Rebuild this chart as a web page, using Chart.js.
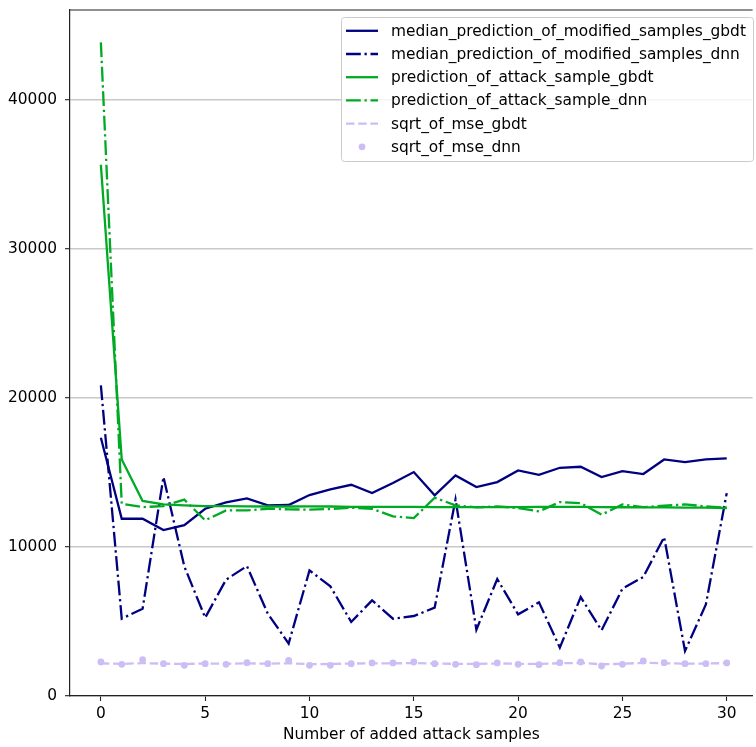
<!DOCTYPE html>
<html>
<head>
<meta charset="utf-8">
<script src="https://cdn.jsdelivr.net/npm/chart.js@4.4.1/dist/chart.umd.min.js"></script>
<style>
  html, body { margin: 0; padding: 0; background: #fff; overflow: hidden; }
  #wrap { width: 756px; height: 747px; position: relative; }
</style>
</head>
<body>
<div id="wrap"><canvas id="c" width="756" height="747"></canvas></div>
<script>
// ---- data ----
const xValues = [0,1,2,3,4,5,6,7,8,9,10,11,12,13,14,15,16,17,18,19,20,21,22,23,24,25,26,27,28,29,30];
const medianGbdt = [17340,11900,11900,11140,11470,12570,13000,13270,12800,12820,13490,13870,14180,13620,14300,15030,13470,14810,14030,14360,15140,14850,15320,15390,14700,15100,14900,15880,15700,15880,15950];
const medianDnn = [20850,5190,5860,14700,8700,5260,7810,8720,5530,3520,8430,7360,4970,6420,5190,5370,5930,13200,4450,7850,5480,6290,3250,6640,4410,7200,7990,10670,3020,6150,13620];
const attackGbdt = [35660,15880,13090,12860,12800,12750,12740,12730,12720,12720,12730,12720,12700,12700,12690,12690,12680,12680,12680,12680,12680,12690,12690,12700,12680,12670,12660,12660,12650,12640,12620];
const attackDnn = [43880,12910,12680,12750,13180,11790,12460,12460,12570,12530,12510,12550,12640,12570,12060,11940,13310,12800,12660,12730,12620,12390,13020,12950,12170,12860,12680,12770,12860,12730,12640];
const mseGbdt = [2200,2150,2210,2170,2150,2180,2160,2190,2170,2200,2140,2150,2180,2190,2190,2210,2180,2160,2150,2190,2160,2150,2200,2220,2130,2160,2230,2200,2170,2180,2210];
const mseDnn = [2284,2127,2440,2172,2060,2172,2127,2239,2172,2395,2060,2060,2172,2217,2217,2284,2172,2127,2105,2217,2127,2105,2239,2284,2015,2127,2350,2239,2172,2172,2217];
const seriesLabels = ["median_prediction_of_modified_samples_gbdt","median_prediction_of_modified_samples_dnn","prediction_of_attack_sample_gbdt","prediction_of_attack_sample_dnn","sqrt_of_mse_gbdt","sqrt_of_mse_dnn"];
const xTicks = [0,5,10,15,20,25,30];
const yTicks = [0,10000,20000,30000,40000];
const xTitle = "Number of added attack samples";

// ---- styles ----
const NAVY = '#000080';
const GREEN = '#00aa22';
const LAV = '#ccbdf5';
const LW = 2.3;
const DASHDOT = [14.8, 3.7, 2.3, 3.7];
const DASHED = [8.5, 3.7];
const FONT = 'DejaVu Sans';
const FS = 15.4;

function pts(arr) { return xValues.map((x, i) => ({ x: x, y: arr[i] })); }

const styles = [
  { color: NAVY, dash: [], line: true },
  { color: NAVY, dash: DASHDOT, line: true },
  { color: GREEN, dash: [], line: true },
  { color: GREEN, dash: DASHDOT, line: true },
  { color: LAV, dash: DASHED, line: true },
  { color: LAV, dash: [], line: false }
];
const seriesData = [medianGbdt, medianDnn, attackGbdt, attackDnn, mseGbdt, mseDnn];

const datasets = seriesData.map((arr, i) => {
  const s = styles[i];
  return {
    label: seriesLabels[i],
    data: pts(arr),
    borderColor: s.color,
    backgroundColor: s.color,
    borderWidth: s.line ? LW : 0,
    borderDash: s.dash,
    showLine: s.line,
    pointRadius: s.line ? 0 : 3.4,
    pointHoverRadius: s.line ? 0 : 3.4,
    pointBackgroundColor: s.color,
    pointBorderWidth: 0,
    tension: 0,
    fill: false,
    order: 6 - i
  };
});

const frame = {
  id: 'frame',
  afterDraw(chart) {
    const ctx = chart.ctx, a = chart.chartArea;
    ctx.save();
    ctx.strokeStyle = '#222';
    ctx.lineWidth = 1.2;
    ctx.beginPath();
    ctx.moveTo(a.left, a.top);
    ctx.lineTo(a.right, a.top);
    ctx.stroke();

    // legend
    const bx = 341.5, by = 17.5, bw = 412, bh = 144, r = 3;
    ctx.fillStyle = 'rgba(255,255,255,0.8)';
    ctx.strokeStyle = '#cccccc';
    ctx.lineWidth = 1;
    ctx.beginPath();
    ctx.moveTo(bx + r, by);
    ctx.lineTo(bx + bw - r, by);
    ctx.arcTo(bx + bw, by, bx + bw, by + r, r);
    ctx.lineTo(bx + bw, by + bh - r);
    ctx.arcTo(bx + bw, by + bh, bx + bw - r, by + bh, r);
    ctx.lineTo(bx + r, by + bh);
    ctx.arcTo(bx, by + bh, bx, by + bh - r, r);
    ctx.lineTo(bx, by + r);
    ctx.arcTo(bx, by, bx + r, by, r);
    ctx.closePath();
    ctx.fill();
    ctx.stroke();

    ctx.font = FS + 'px "' + FONT + '"';
    ctx.textBaseline = 'middle';
    ctx.textAlign = 'left';
    chart.data.datasets.forEach((ds, i) => {
      const y = 30.8 + i * 23.2;
      const s = styles[i];
      if (s.line) {
        ctx.strokeStyle = s.color;
        ctx.lineWidth = LW;
        ctx.setLineDash(s.dash);
        ctx.beginPath();
        ctx.moveTo(346, y);
        ctx.lineTo(378, y);
        ctx.stroke();
        ctx.setLineDash([]);
      } else {
        ctx.fillStyle = s.color;
        ctx.beginPath();
        ctx.arc(362, y, 3.4, 0, Math.PI * 2);
        ctx.fill();
      }
      ctx.fillStyle = '#000';
      ctx.fillText(ds.label, 391, y + 1);
    });
    ctx.restore();
  }
};

new Chart(document.getElementById('c'), {
  type: 'scatter',
  data: { datasets: datasets },
  options: {
    responsive: false,
    animation: false,
    devicePixelRatio: 1,
    layout: { padding: { top: 10, right: 0, left: 0, bottom: 0 } },
    plugins: { legend: { display: false }, tooltip: { enabled: false }, title: { display: false } },
    scales: {
      x: {
        type: 'linear',
        min: -1.48,
        max: 31.24,
        afterBuildTicks(scale) { scale.ticks = xTicks.map(v => ({ value: v })); },
        afterFit(scale) { scale.height = 51; scale.paddingLeft = 0; scale.paddingRight = 0; },
        grid: { display: true, drawOnChartArea: false, drawTicks: true, tickLength: 5, tickColor: '#222', tickWidth: 1.1 },
        border: { display: true, color: '#222', width: 1.2 },
        ticks: { color: '#000', font: { family: FONT, size: FS }, padding: 4, maxRotation: 0, autoSkip: false },
        title: { display: true, text: xTitle, color: '#000', font: { family: FONT, size: FS }, padding: { top: 0, bottom: 3 } }
      },
      y: {
        type: 'linear',
        min: 0,
        max: 46050,
        afterBuildTicks(scale) { scale.ticks = yTicks.map(v => ({ value: v })); },
        afterFit(scale) { scale.width = 70; scale.paddingTop = 0; scale.paddingBottom = 0; },
        grid: { display: true, drawOnChartArea: true, drawTicks: true, tickLength: 5, color: '#c8c8c8', lineWidth: 1.4, tickColor: '#222', tickWidth: 1.1 },
        border: { display: true, color: '#222', width: 1.2 },
        ticks: { color: '#000', font: { family: FONT, size: FS }, padding: 8, autoSkip: false, callback: v => String(v) }
      }
    }
  },
  plugins: [frame]
});
</script>
</body>
</html>
